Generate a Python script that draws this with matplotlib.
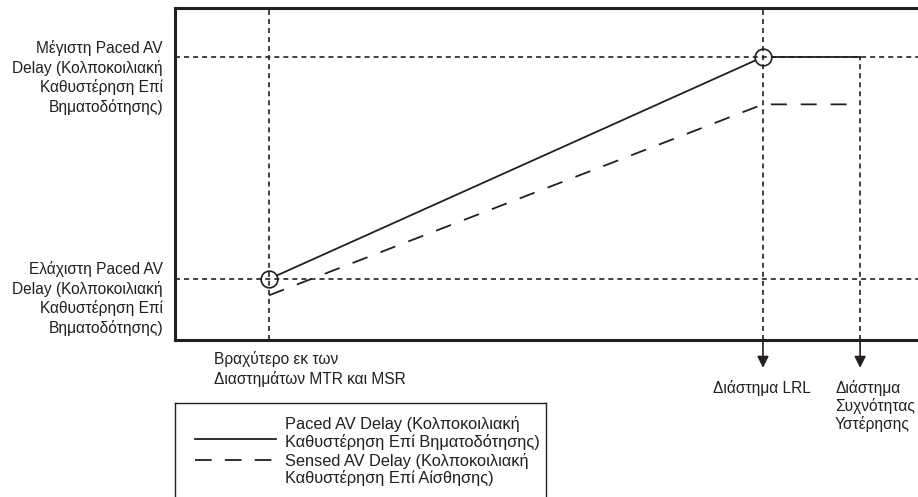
import matplotlib.pyplot as plt

plt.rcParams['font.family'] = ['Liberation Sans', 'DejaVu Sans']
plt.rcParams['lines.scale_dashes'] = False

INK = '#231f20'
W, H = 918, 497

# schematic values (interval in ms on x, AV delay in ms on y)
interval_short = 400      # shorter of MTR / MSR intervals
interval_lrl = 1000       # LRL interval
interval_hyst = 1118      # hysteresis rate interval
paced_x = [400, 1000, 1118]
paced_y = [100, 250, 250]
sensed_x = [400, 1000, 1118]
sensed_y = [89, 218, 218]
paced_min, paced_max = 100, 250

left_labels = ['Μέγιστη Paced AV\nDelay (Κολποκοιλιακή\nΚαθυστέρηση Επί\nΒηματοδότησης)',
               'Ελάχιστη Paced AV\nDelay (Κολποκοιλιακή\nΚαθυστέρηση Επί\nΒηματοδότησης)']
short_label = 'Βραχύτερο εκ των\nΔιαστημάτων MTR και MSR'
lrl_label = 'Διάστημα LRL'
hyst_label = 'Διάστημα\nΣυχνότητας\nΥστέρησης'
legend_labels = ['Paced AV Delay (Κολποκοιλιακή\nΚαθυστέρηση Επί Βηματοδότησης)',
                 'Sensed AV Delay (Κολποκοιλιακή\nΚαθυστέρηση Επί Αίσθησης)']


def fx(px):
    return px / W


def fy(py):
    return 1 - py / H


fig = plt.figure(figsize=(W / 100, H / 100), dpi=100)
fig.patch.set_facecolor('white')

ax = fig.add_axes([fx(175), fy(340), fx(W - 175), (340 - 8) / H])
ax.set_xlim(285.8, 1188.3)
ax.set_ylim(58.8, 283.1)
ax.set_xticks([])
ax.set_yticks([])
ax.spines['right'].set_visible(False)
for s in ['left', 'top', 'bottom']:
    ax.spines[s].set_linewidth(2.2)
    ax.spines[s].set_color(INK)

guide = dict(color=INK, lw=1.2, linestyle=(0, (3.6, 2.9)), zorder=4)
ax.axhline(paced_max, **guide)
ax.axhline(paced_min, **guide)
ax.axvline(interval_short, **guide)
ax.axvline(interval_lrl, **guide)
ax.vlines(interval_hyst, ax.get_ylim()[0], paced_max, **guide)

# paced (solid) and sensed (dashed) AV delay
ax.plot(paced_x, paced_y, color=INK, lw=1.3, zorder=2)
ax.plot(sensed_x, sensed_y, color=INK, lw=1.3, linestyle=(0, (11.5, 10)), zorder=2)

ax.plot([interval_short, interval_lrl], [paced_min, paced_max], 'o', ms=12,
        mfc='white', mec=INK, mew=1.2, zorder=3)

# arrows below the axis
y_tip = 40
for xv in [interval_lrl, interval_hyst]:
    ax.annotate('', xy=(xv, y_tip), xytext=(xv, ax.get_ylim()[0]),
                arrowprops=dict(arrowstyle='-|>', color=INK, lw=1.2,
                                mutation_scale=17, shrinkA=0, shrinkB=0),
                annotation_clip=False)

fs = 11.2
fig.text(fx(163), fy(40), left_labels[0], ha='right', va='top', ma='right',
         fontsize=fs, color=INK, linespacing=1.27)
fig.text(fx(163), fy(261), left_labels[1], ha='right', va='top', ma='right',
         fontsize=fs, color=INK, linespacing=1.27)
fig.text(fx(214), fy(351), short_label, ha='left', va='top', fontsize=fs,
         color=INK, linespacing=1.28)
fig.text(fx(762), fy(380), lrl_label, ha='center', va='top', fontsize=fs, color=INK)
fig.text(fx(835), fy(380), hyst_label, ha='left', va='top', fontsize=fs,
         color=INK, linespacing=1.15)

# legend box (runs off the bottom of the figure)
lfs = 11.8
lax = fig.add_axes([fx(175), fy(520), fx(546 - 175), (520 - 403) / H])
lax.set_xlim(0, 371)
lax.set_ylim(117, 0)
lax.set_xticks([])
lax.set_yticks([])
for s in lax.spines.values():
    s.set_linewidth(1.0)
    s.set_color(INK)
lax.plot([20, 101], [36, 36], color=INK, lw=1.3)
lax.plot([20, 101], [57, 57], color=INK, lw=1.3, linestyle=(0, (12, 9.5)))
lax.text(110, 13, legend_labels[0], ha='left', va='top', fontsize=lfs,
         color=INK, linespacing=1.15)
lax.text(110, 50, legend_labels[1], ha='left', va='top', fontsize=lfs,
         color=INK, linespacing=1.05)

fig.savefig('out.png', dpi=100, facecolor='white')
